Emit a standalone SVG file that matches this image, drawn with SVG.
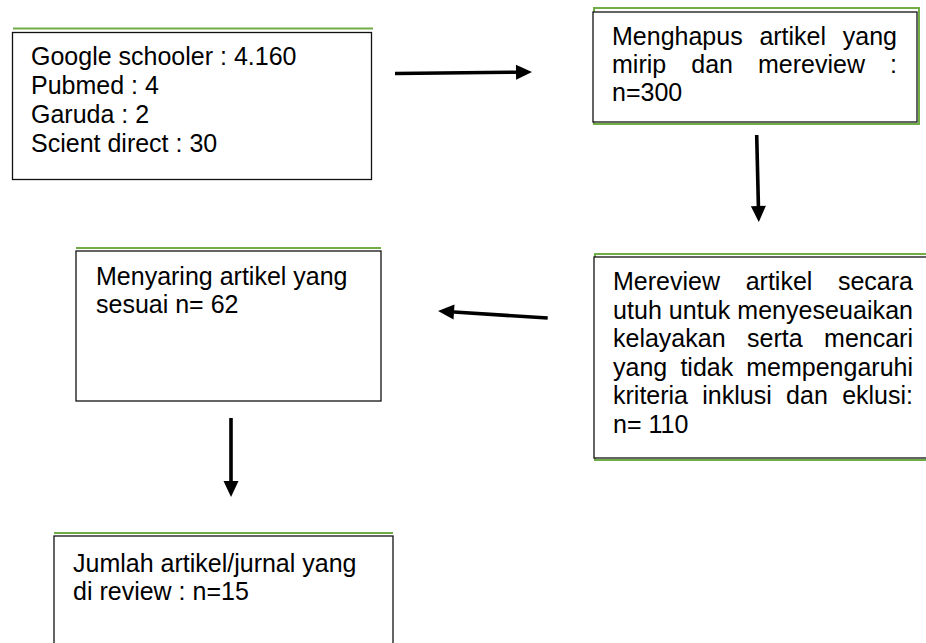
<svg xmlns="http://www.w3.org/2000/svg" width="926" height="643" viewBox="0 0 926 643">
<style>
.box{fill:#fff;stroke:#111;stroke-width:1.3}
.gr{fill:none;stroke:#70ad47;stroke-width:2}
text{font-family:"Liberation Sans",Arial,sans-serif;font-size:25px;fill:#000}
.e{text-anchor:end}
.arr{stroke:#000;stroke-width:3.6;fill:none;marker-end:url(#ah)}
</style>
<defs>
<marker id="ah" markerUnits="userSpaceOnUse" markerWidth="16" markerHeight="15" viewBox="0 0 16 15" refX="0" refY="7.5" orient="auto" overflow="visible">
<path d="M0,0 L16,7.5 L0,15 z" fill="#000"/>
</marker>
</defs>
<rect width="926" height="643" fill="#fff"/>

<g id="connectors">
<line class="arr" x1="395" y1="73.5" x2="516" y2="72.2"/>
<line class="arr" x1="756.7" y1="135" x2="758.4" y2="206"/>
<line class="arr" x1="547.7" y1="318" x2="454" y2="312"/>
<line class="arr" x1="231" y1="418" x2="231" y2="481"/>
</g>

<g id="n1">
<line class="gr" x1="13" y1="28.5" x2="373" y2="28.5"/>
<rect class="box" x="12.5" y="32.5" width="359" height="147"/>
<text x="31" y="65">Google schooler : 4.160</text>
<text x="31" y="94">Pubmed : 4</text>
<text x="31" y="123">Garuda : 2</text>
<text x="31" y="152">Scient direct : 30</text>
</g>

<g id="n2">
<rect class="gr" x="594" y="8" width="325" height="116"/>
<rect class="box" x="593" y="12" width="324" height="110"/>
<text x="612" y="45">Menghapus</text>
<text x="759.4" y="45">artikel</text>
<text class="e" x="897" y="45">yang</text>
<text x="612" y="73">mirip</text>
<text x="691.3" y="73">dan</text>
<text x="758" y="73">mereview</text>
<text class="e" x="897" y="73">:</text>
<text x="612" y="101">n=300</text>
</g>

<g id="n3">
<rect class="gr" x="595" y="254" width="340" height="206"/>
<rect class="box" x="594" y="257" width="340" height="201"/>
<text x="613" y="290">Mereview</text>
<text x="745.7" y="290">artikel</text>
<text class="e" x="913" y="290">secara</text>
<text x="613" y="318.6" textLength="300" lengthAdjust="spacing">utuh untuk menyeseuaikan</text>
<text x="613" y="347.2">kelayakan</text>
<text x="747" y="347.2">serta</text>
<text class="e" x="913" y="347.2">mencari</text>
<text x="613" y="375.8">yang</text>
<text x="680.4" y="375.8">tidak</text>
<text class="e" x="913" y="375.8">mempengaruhi</text>
<text x="613" y="404.4">kriteria</text>
<text x="702.3" y="404.4">inklusi</text>
<text x="786.1" y="404.4">dan</text>
<text class="e" x="913" y="404.4">eklusi:</text>
<text x="613" y="433">n= 110</text>
</g>

<g id="n4">
<line class="gr" x1="76" y1="248" x2="381" y2="248"/>
<rect class="box" x="76" y="251" width="305" height="150"/>
<text x="96" y="285">Menyaring artikel yang</text>
<text x="96" y="313">sesuai n= 62</text>
</g>

<g id="n5">
<line class="gr" x1="54" y1="533" x2="393" y2="533"/>
<rect class="box" x="54" y="536" width="339" height="120"/>
<text x="73" y="572">Jumlah artikel/jurnal yang</text>
<text x="73" y="600">di review : n=15</text>
</g>
</svg>
